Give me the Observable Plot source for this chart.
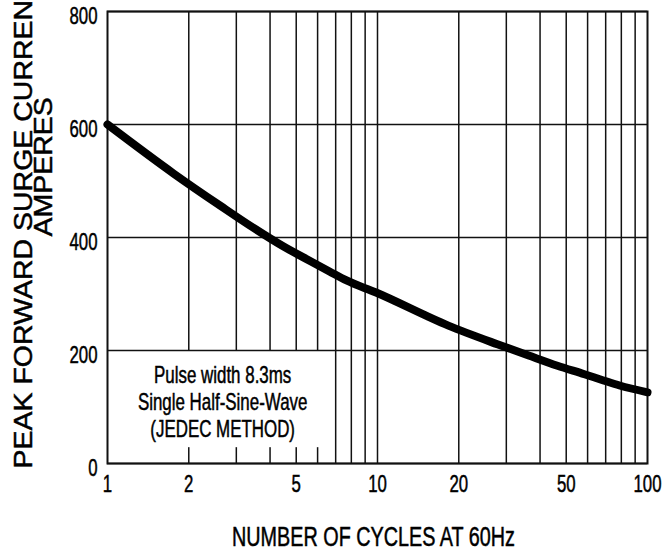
<!DOCTYPE html>
<html><head><meta charset="utf-8">
<script src="https://cdn.jsdelivr.net/npm/d3@7"></script>
<script src="https://cdn.jsdelivr.net/npm/@observablehq/plot@0.6"></script>
<style>body{margin:0;background:#fff}</style>
</head><body><div id="chart"></div>
<script>
const cycles = [1, 1.76, 2.64, 3.5, 4.49, 5.65, 6.64, 7.68, 9.83, 18.3, 27.8, 36.3, 46.4, 58.4, 68.7, 78.8, 100];
const amps = [600, 513, 455, 416, 384, 358, 340, 324, 303, 244, 211, 191, 173, 158, 147, 138, 126];
const xTicks = [1, 2, 5, 10, 20, 50, 100];
const xGrid = [2, 3, 4, 5, 6, 7, 8, 9, 10, 20, 30, 40, 50, 60, 70, 80, 90];
const yTicks = [0, 200, 400, 600, 800];
const yTitle1 = "PEAK FORWARD SURGE CURRENT";
const yTitle2 = "AMPERES";
const xTitle = "NUMBER OF CYCLES AT 60Hz";
const noteLines = ["Pulse width 8.3ms", "Single Half-Sine-Wave", "(JEDEC METHOD)"];

const data = cycles.map((c, i) => ({c, a: amps[i]}));

const chart = Plot.plot({
  width: 669,
  height: 553,
  marginLeft: 107,
  marginRight: 22,
  marginTop: 11,
  marginBottom: 90,
  style: {fontFamily: "'Liberation Sans', Arial, sans-serif", background: "#fff", color: "#000"},
  x: {type: "log", domain: [1, 100]},
  y: {domain: [0, 800]},
  marks: [
    Plot.ruleX(xGrid, {stroke: "#111", strokeWidth: 1.5}),
    Plot.rect([0], {x1: () => 1, x2: () => 6.5, y1: () => 28, y2: () => 199, fill: "white"}),
    Plot.ruleY(yTicks, {stroke: "#111", strokeWidth: 1.5}),
    Plot.frame({stroke: "#111", strokeWidth: 2}),
    Plot.axisX({ticks: xTicks, tickSize: 0, tickPadding: 11, fontSize: 24, tickFormat: d => String(d), label: null}),
    Plot.axisY({ticks: yTicks, tickSize: 0, tickPadding: 10, fontSize: 24, dy: 5, tickFormat: d => String(d), label: null}),
    Plot.line(data, {x: "c", y: "a", stroke: "#000", strokeWidth: 8, curve: "monotone-x", strokeLinecap: "round"}),
    Plot.text([noteLines.join("\n")], {x: () => 2.67, y: () => 110, text: d => d, fontSize: 23.5, lineHeight: 1.15}),
    Plot.text([xTitle], {text: d => d, frameAnchor: "bottom", dy: 82, dx: -4, fontSize: 27.5}),
    Plot.text([yTitle1], {text: d => d, frameAnchor: "bottom-left", rotate: -90, textAnchor: "start", dx: -76, dy: 5, fontSize: 28.5}),
    Plot.text([yTitle2], {text: d => d, frameAnchor: "left", rotate: -90, dx: -64, dy: -1, fontSize: 28.5})
  ]
});

const tickStrings = new Set([...xTicks, ...yTicks].map(String));
d3.select(chart).selectAll("text").each(function() {
  const txt = this.textContent;
  let s = null;
  if (txt === xTitle || txt.startsWith(noteLines[0])) s = "scale(0.72,1)";
  else if (txt === yTitle1 || txt === yTitle2) s = "scale(1,0.9)";
  else if (tickStrings.has(txt)) s = "scale(0.7,1)";
  if (!s) return;
  const t = this.getAttribute("transform") || "";
  this.setAttribute("transform", (t + " " + s).trim());
  this.setAttribute("stroke", "#000");
  this.setAttribute("stroke-width", "0.5");
});
document.getElementById("chart").appendChild(chart);
</script>
</body></html>
